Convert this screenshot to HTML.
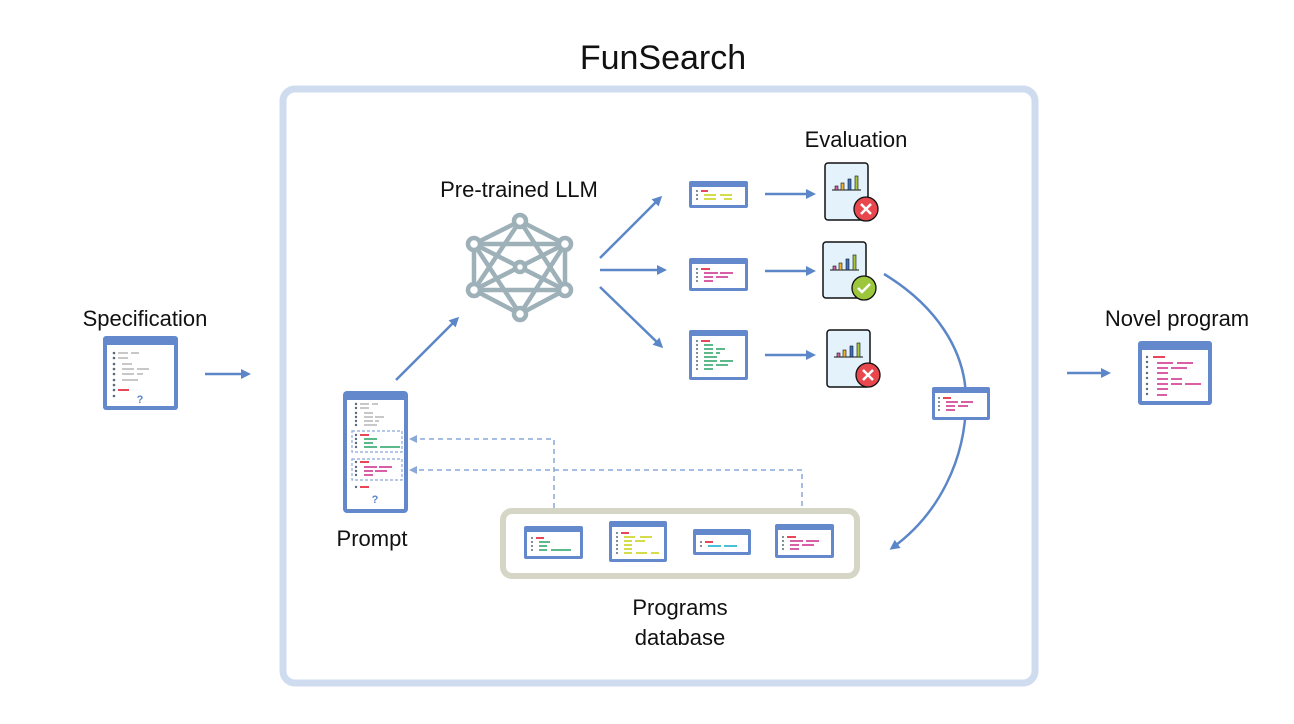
<!DOCTYPE html>
<html><head><meta charset="utf-8"><style>
html,body{margin:0;padding:0;background:#fff;}
svg{display:block;}
text{font-family:"Liberation Sans",sans-serif;fill:#111;}
</style></head><body>
<svg width="1294" height="724" viewBox="0 0 1294 724" xmlns="http://www.w3.org/2000/svg">
<defs>
<marker id="ah" markerWidth="10" markerHeight="10" refX="7" refY="5" orient="auto" markerUnits="userSpaceOnUse"><path d="M0,0 L10,5 L0,10 z" fill="#5b86c8"/></marker>
<marker id="ahd" markerWidth="8" markerHeight="8" refX="4" refY="4" orient="auto" markerUnits="userSpaceOnUse"><path d="M0,0 L8,4 L0,8 z" fill="#8aa8d8"/></marker>
</defs>

<!-- frame -->
<rect x="283" y="89" width="752" height="594" rx="12" fill="none" stroke="#cfdcef" stroke-width="7"/>
<text x="663" y="69" font-size="34" text-anchor="middle">FunSearch</text>

<!-- Specification -->
<text x="145" y="326" font-size="22" text-anchor="middle">Specification</text>
<rect x="103" y="336" width="75" height="74" rx="3" fill="#6389cc"/>
<rect x="107" y="345" width="67" height="61" fill="#fff"/>
<g fill="#5a6a7a"><circle cx="114" cy="353" r="1.3"/><circle cx="114" cy="358" r="1.3"/><circle cx="114" cy="364" r="1.3"/><circle cx="114" cy="369" r="1.3"/><circle cx="114" cy="374" r="1.3"/><circle cx="114" cy="380" r="1.3"/><circle cx="114" cy="385" r="1.3"/><circle cx="114" cy="390" r="1.3"/><circle cx="114" cy="396" r="1.3"/></g>
<g fill="#c8c8c8"><rect x="118" y="352" width="10" height="2"/><rect x="131" y="352" width="8" height="2"/><rect x="118" y="357" width="10" height="2"/><rect x="122" y="363" width="10" height="2"/><rect x="122" y="368" width="12" height="2"/><rect x="137" y="368" width="12" height="2"/><rect x="122" y="373" width="12" height="2"/><rect x="137" y="373" width="6" height="2"/><rect x="122" y="379" width="16" height="2"/></g>
<rect x="118" y="389" width="11" height="2" fill="#e8475a"/>
<text x="140" y="403" font-size="11" font-weight="bold" text-anchor="middle" fill="#5b86c8" style="fill:#5b86c8">?</text>
<line x1="205" y1="374" x2="248" y2="374" stroke="#5b86c8" stroke-width="2.5" marker-end="url(#ah)"/>

<!-- Prompt -->
<rect x="343" y="391" width="65" height="122" rx="4" fill="#6389cc"/>
<rect x="347" y="400" width="57" height="109" fill="#fff"/>
<g fill="#5a6a7a"><circle cx="356" cy="404" r="1.2"/><circle cx="356" cy="408" r="1.2"/><circle cx="356" cy="413" r="1.2"/><circle cx="356" cy="417" r="1.2"/><circle cx="356" cy="421" r="1.2"/><circle cx="356" cy="425" r="1.2"/><circle cx="356" cy="435" r="1.2"/><circle cx="356" cy="439" r="1.2"/><circle cx="356" cy="443" r="1.2"/><circle cx="356" cy="447" r="1.2"/><circle cx="356" cy="462" r="1.2"/><circle cx="356" cy="467" r="1.2"/><circle cx="356" cy="471" r="1.2"/><circle cx="356" cy="475" r="1.2"/><circle cx="356" cy="487" r="1.2"/></g>
<g fill="#c8c8c8"><rect x="360" y="403" width="9" height="2"/><rect x="372" y="403" width="6" height="2"/><rect x="360" y="407" width="9" height="2"/><rect x="364" y="412" width="9" height="2"/><rect x="364" y="416" width="9" height="2"/><rect x="375" y="416" width="9" height="2"/><rect x="364" y="420" width="9" height="2"/><rect x="375" y="420" width="4" height="2"/><rect x="364" y="424" width="13" height="2"/></g>
<g fill="#e8475a"><rect x="360" y="434" width="9" height="2"/><rect x="360" y="461" width="9" height="2"/><rect x="360" y="486" width="9" height="2"/></g>
<g fill="#5cba8a"><rect x="364" y="438" width="13" height="2"/><rect x="364" y="442" width="9" height="2"/><rect x="364" y="446" width="13" height="2"/><rect x="380" y="446" width="20" height="2"/></g>
<g fill="#d85fa6"><rect x="364" y="466" width="13" height="2"/><rect x="379" y="466" width="13" height="2"/><rect x="364" y="470" width="9" height="2"/><rect x="375" y="470" width="12" height="2"/><rect x="364" y="474" width="9" height="2"/></g>
<rect x="352" y="431" width="50" height="21" fill="none" stroke="#8aa8d8" stroke-width="1.2" stroke-dasharray="3,2"/>
<rect x="352" y="459" width="50" height="21" fill="none" stroke="#8aa8d8" stroke-width="1.2" stroke-dasharray="3,2"/>
<text x="375" y="503" font-size="11" font-weight="bold" text-anchor="middle" style="fill:#5b86c8">?</text>
<text x="372" y="546" font-size="22" text-anchor="middle">Prompt</text>
<line x1="396" y1="380" x2="457" y2="319" stroke="#5b86c8" stroke-width="2.5" marker-end="url(#ah)"/>

<!-- LLM -->
<text x="519" y="197" font-size="22" text-anchor="middle">Pre-trained LLM</text>
<g stroke="#9eb1b8" stroke-width="4.5" fill="none" stroke-linejoin="round">
<polygon points="520,221 565,244 565,290 520,314 474,290 474,244"/>
<polygon points="520,221 565,290 474,290"/>
<polygon points="520,314 565,244 474,244"/>
<line x1="474" y1="244" x2="565" y2="290"/><line x1="565" y1="244" x2="474" y2="290"/>
</g>
<g fill="#fff" stroke="#9eb1b8" stroke-width="4.5">
<circle cx="520" cy="221" r="6"/><circle cx="565" cy="244" r="6"/><circle cx="565" cy="290" r="6"/><circle cx="520" cy="314" r="6"/><circle cx="474" cy="290" r="6"/><circle cx="474" cy="244" r="6"/><circle cx="520" cy="267" r="5"/>
</g>
<line x1="600" y1="258" x2="660" y2="198" stroke="#5b86c8" stroke-width="2.5" marker-end="url(#ah)"/>
<line x1="600" y1="270" x2="664" y2="270" stroke="#5b86c8" stroke-width="2.5" marker-end="url(#ah)"/>
<line x1="600" y1="287" x2="661" y2="346" stroke="#5b86c8" stroke-width="2.5" marker-end="url(#ah)"/>

<!-- output windows -->
<rect x="689" y="181" width="59" height="27" rx="2" fill="#6389cc"/><rect x="692" y="187" width="53" height="18" fill="#fff"/>
<g fill="#5a6a7a"><circle cx="697" cy="191" r="1"/><circle cx="697" cy="195" r="1"/><circle cx="697" cy="199" r="1"/></g>
<rect x="701" y="190" width="7" height="2" fill="#e8475a"/><g fill="#d4dc4a"><rect x="704" y="194" width="12" height="2"/><rect x="720" y="194" width="12" height="2"/><rect x="704" y="198" width="12" height="2"/><rect x="724" y="198" width="8" height="2"/></g>

<rect x="689" y="258" width="59" height="33" rx="2" fill="#6389cc"/><rect x="692" y="264" width="53" height="24" fill="#fff"/>
<g fill="#5a6a7a"><circle cx="697" cy="269" r="1"/><circle cx="697" cy="273" r="1"/><circle cx="697" cy="277" r="1"/><circle cx="697" cy="281" r="1"/></g>
<rect x="701" y="268" width="9" height="2" fill="#e8475a"/><g fill="#d85fa6"><rect x="704" y="272" width="14" height="2"/><rect x="720" y="272" width="13" height="2"/><rect x="704" y="276" width="9" height="2"/><rect x="716" y="276" width="12" height="2"/><rect x="704" y="280" width="9" height="2"/></g>

<rect x="689" y="330" width="59" height="50" rx="2" fill="#6389cc"/><rect x="692" y="336" width="53" height="41" fill="#fff"/>
<g fill="#5a6a7a"><circle cx="697" cy="341" r="1"/><circle cx="697" cy="345" r="1"/><circle cx="697" cy="349" r="1"/><circle cx="697" cy="353" r="1"/><circle cx="697" cy="357" r="1"/><circle cx="697" cy="361" r="1"/><circle cx="697" cy="365" r="1"/><circle cx="697" cy="369" r="1"/></g>
<rect x="701" y="340" width="9" height="2" fill="#e8475a"/><g fill="#5cba8a"><rect x="704" y="344" width="9" height="2"/><rect x="704" y="348" width="9" height="2"/><rect x="716" y="348" width="9" height="2"/><rect x="704" y="352" width="9" height="2"/><rect x="716" y="352" width="4" height="2"/><rect x="704" y="356" width="13" height="2"/><rect x="704" y="360" width="13" height="2"/><rect x="720" y="360" width="13" height="2"/><rect x="704" y="364" width="9" height="2"/><rect x="716" y="364" width="12" height="2"/><rect x="704" y="368" width="9" height="2"/></g>

<line x1="765" y1="194" x2="813" y2="194" stroke="#5b86c8" stroke-width="2.5" marker-end="url(#ah)"/>
<line x1="765" y1="271" x2="813" y2="271" stroke="#5b86c8" stroke-width="2.5" marker-end="url(#ah)"/>
<line x1="765" y1="355" x2="813" y2="355" stroke="#5b86c8" stroke-width="2.5" marker-end="url(#ah)"/>

<!-- Evaluation -->
<text x="856" y="147" font-size="22" text-anchor="middle">Evaluation</text>
<g>
<rect x="825" y="163" width="43" height="57" rx="3" fill="#e3f2fb" stroke="#111" stroke-width="1.5"/>
<line x1="832" y1="190" x2="861" y2="190" stroke="#111" stroke-width="1"/>
<rect x="835" y="186" width="3" height="4" fill="#d85fa6" stroke="#111" stroke-width=".6"/><rect x="841" y="183" width="3" height="7" fill="#f0b030" stroke="#111" stroke-width=".6"/><rect x="848" y="179" width="3" height="11" fill="#3c70c0" stroke="#111" stroke-width=".6"/><rect x="855" y="176" width="3" height="14" fill="#a5c83a" stroke="#111" stroke-width=".6"/>
<circle cx="866" cy="209" r="12" fill="#e9474e" stroke="#111" stroke-width="1.3"/><path d="M861,204 L871,214 M871,204 L861,214" stroke="#fff" stroke-width="2.5"/>
</g>
<g>
<rect x="823" y="242" width="43" height="56" rx="3" fill="#e3f2fb" stroke="#111" stroke-width="1.5"/>
<line x1="830" y1="270" x2="859" y2="270" stroke="#111" stroke-width="1"/>
<rect x="833" y="266" width="3" height="4" fill="#d85fa6" stroke="#111" stroke-width=".6"/><rect x="839" y="263" width="3" height="7" fill="#f0b030" stroke="#111" stroke-width=".6"/><rect x="846" y="259" width="3" height="11" fill="#3c70c0" stroke="#111" stroke-width=".6"/><rect x="853" y="255" width="3" height="15" fill="#a5c83a" stroke="#111" stroke-width=".6"/>
<circle cx="864" cy="288" r="12" fill="#9cc73c" stroke="#111" stroke-width="1.3"/><path d="M858,288 L862,292 L870,284" stroke="#fff" stroke-width="2.5" fill="none"/>
</g>
<g>
<rect x="827" y="330" width="43" height="57" rx="3" fill="#e3f2fb" stroke="#111" stroke-width="1.5"/>
<line x1="834" y1="357" x2="863" y2="357" stroke="#111" stroke-width="1"/>
<rect x="837" y="353" width="3" height="4" fill="#d85fa6" stroke="#111" stroke-width=".6"/><rect x="843" y="350" width="3" height="7" fill="#f0b030" stroke="#111" stroke-width=".6"/><rect x="850" y="346" width="3" height="11" fill="#3c70c0" stroke="#111" stroke-width=".6"/><rect x="857" y="343" width="3" height="14" fill="#a5c83a" stroke="#111" stroke-width=".6"/>
<circle cx="868" cy="375" r="12" fill="#e9474e" stroke="#111" stroke-width="1.3"/><path d="M863,370 L873,380 M873,370 L863,380" stroke="#fff" stroke-width="2.5"/>
</g>

<!-- curve -->
<path d="M884,274 C935,305 966,350 966,400 C966,460 938,515 892,548" fill="none" stroke="#5b86c8" stroke-width="2.5" marker-end="url(#ah)"/>
<rect x="932" y="387" width="58" height="33" rx="2" fill="#6389cc"/><rect x="935" y="393" width="52" height="24" fill="#fff"/>
<g fill="#5a6a7a"><circle cx="939" cy="398" r="1"/><circle cx="939" cy="402" r="1"/><circle cx="939" cy="406" r="1"/><circle cx="939" cy="410" r="1"/></g>
<rect x="943" y="397" width="8" height="2" fill="#e8475a"/><g fill="#d85fa6"><rect x="946" y="401" width="12" height="2"/><rect x="961" y="401" width="12" height="2"/><rect x="946" y="405" width="9" height="2"/><rect x="958" y="405" width="10" height="2"/><rect x="946" y="409" width="9" height="2"/></g>

<!-- Novel program -->
<text x="1177" y="326" font-size="22" text-anchor="middle">Novel program</text>
<line x1="1067" y1="373" x2="1108" y2="373" stroke="#5b86c8" stroke-width="2.5" marker-end="url(#ah)"/>
<rect x="1138" y="341" width="74" height="64" rx="3" fill="#6389cc"/><rect x="1142" y="350" width="66" height="51" fill="#fff"/>
<g fill="#5a6a7a"><circle cx="1147" cy="357" r="1.2"/><circle cx="1147" cy="362" r="1.2"/><circle cx="1147" cy="367" r="1.2"/><circle cx="1147" cy="373" r="1.2"/><circle cx="1147" cy="378" r="1.2"/><circle cx="1147" cy="384" r="1.2"/><circle cx="1147" cy="389" r="1.2"/><circle cx="1147" cy="394" r="1.2"/></g>
<rect x="1153" y="356" width="12" height="2" fill="#e8475a"/>
<g fill="#d85fa6"><rect x="1157" y="362" width="16" height="2"/><rect x="1177" y="362" width="16" height="2"/><rect x="1157" y="367" width="11" height="2"/><rect x="1171" y="367" width="16" height="2"/><rect x="1157" y="372" width="11" height="2"/><rect x="1157" y="378" width="11" height="2"/><rect x="1171" y="378" width="11" height="2"/><rect x="1157" y="383" width="11" height="2"/><rect x="1171" y="383" width="11" height="2"/><rect x="1185" y="383" width="16" height="2"/><rect x="1157" y="388" width="11" height="2"/><rect x="1157" y="394" width="10" height="2"/></g>

<!-- dashed -->
<polyline points="554,526 554,439 413,439" fill="none" stroke="#8aa8d8" stroke-width="1.5" stroke-dasharray="5,4" marker-end="url(#ahd)"/>
<polyline points="802,524 802,470 413,470" fill="none" stroke="#8aa8d8" stroke-width="1.5" stroke-dasharray="5,4" marker-end="url(#ahd)"/>

<!-- DB -->
<rect x="503" y="511" width="354" height="65" rx="9" fill="#fff" stroke="#d6d6c6" stroke-width="6"/>
<rect x="524" y="526" width="59" height="33" rx="2" fill="#6389cc"/><rect x="527" y="532" width="53" height="24" fill="#fff"/>
<g fill="#5a6a7a"><circle cx="532" cy="538" r="1"/><circle cx="532" cy="542" r="1"/><circle cx="532" cy="546" r="1"/><circle cx="532" cy="550" r="1"/></g>
<rect x="536" y="537" width="8" height="2" fill="#e8475a"/><g fill="#5cba8a"><rect x="539" y="541" width="11" height="2"/><rect x="539" y="545" width="8" height="2"/><rect x="539" y="549" width="8" height="2"/><rect x="551" y="549" width="20" height="2"/></g>
<rect x="609" y="521" width="58" height="41" rx="2" fill="#6389cc"/><rect x="612" y="527" width="52" height="32" fill="#fff"/>
<g fill="#5a6a7a"><circle cx="617" cy="533" r="1"/><circle cx="617" cy="537" r="1"/><circle cx="617" cy="541" r="1"/><circle cx="617" cy="545" r="1"/><circle cx="617" cy="549" r="1"/><circle cx="617" cy="553" r="1"/></g>
<rect x="621" y="532" width="8" height="2" fill="#e8475a"/><g fill="#d4dc4a"><rect x="624" y="536" width="11" height="2"/><rect x="640" y="536" width="12" height="2"/><rect x="624" y="540" width="8" height="2"/><rect x="635" y="540" width="10" height="2"/><rect x="624" y="544" width="8" height="2"/><rect x="624" y="548" width="8" height="2"/><rect x="624" y="552" width="8" height="2"/><rect x="636" y="552" width="11" height="2"/><rect x="651" y="552" width="8" height="2"/></g>
<rect x="693" y="529" width="58" height="26" rx="2" fill="#6389cc"/><rect x="696" y="535" width="52" height="17" fill="#fff"/>
<g fill="#5a6a7a"><circle cx="701" cy="542" r="1"/><circle cx="701" cy="546" r="1"/></g>
<rect x="705" y="541" width="8" height="2" fill="#e8475a"/><g fill="#4ac0d8"><rect x="708" y="545" width="13" height="2"/><rect x="724" y="545" width="13" height="2"/></g>
<rect x="775" y="524" width="59" height="34" rx="2" fill="#6389cc"/><rect x="778" y="530" width="53" height="25" fill="#fff"/>
<g fill="#5a6a7a"><circle cx="783" cy="537" r="1"/><circle cx="783" cy="541" r="1"/><circle cx="783" cy="545" r="1"/><circle cx="783" cy="549" r="1"/></g>
<rect x="787" y="536" width="9" height="2" fill="#e8475a"/><g fill="#d85fa6"><rect x="790" y="540" width="13" height="2"/><rect x="806" y="540" width="13" height="2"/><rect x="790" y="544" width="9" height="2"/><rect x="802" y="544" width="12" height="2"/><rect x="790" y="548" width="9" height="2"/></g>
<text x="680" y="615" font-size="22" text-anchor="middle">Programs</text>
<text x="680" y="645" font-size="22" text-anchor="middle">database</text>
</svg>
</body></html>
